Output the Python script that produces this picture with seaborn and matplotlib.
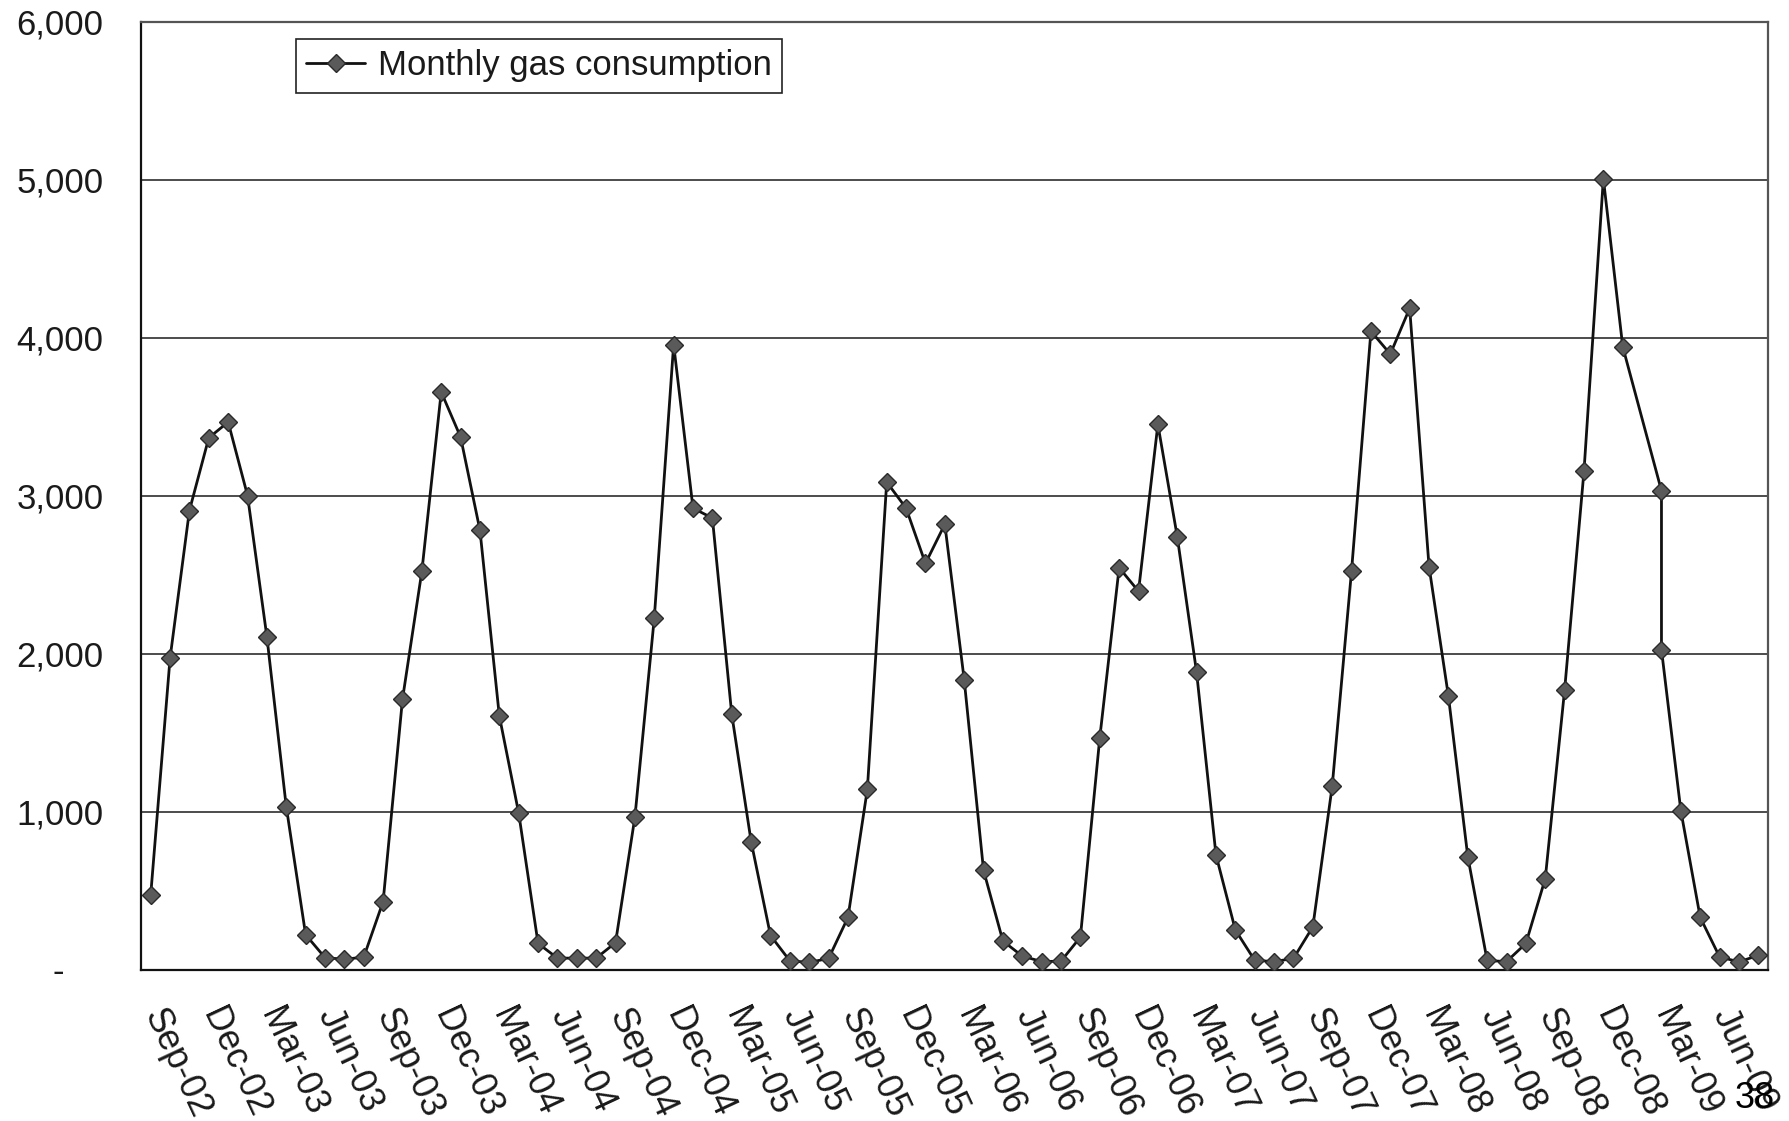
import matplotlib
matplotlib.use("Agg")
import matplotlib.pyplot as plt
import matplotlib.transforms as mtransforms
import numpy as np
import pandas as pd
import seaborn as sns

# Reading month for each meter reading (the Feb-09 reading was taken in March)
reading_months = (
    [str(p) for p in pd.period_range("2002-09", "2009-01", freq="M")]
    + ["2009-03"]
    + [str(p) for p in pd.period_range("2009-03", "2009-08", freq="M")]
)

gas_consumption = [
    470, 1970, 2905, 3365, 3465, 3000, 2105, 1030, 220, 75, 65, 78,        # Sep-02 .. Aug-03
    430, 1710, 2520, 3655, 3370, 2780, 1605, 990, 165, 72, 72, 72,         # Sep-03 .. Aug-04
    170, 965, 2225, 3955, 2920, 2857, 1615, 810, 215, 55, 45, 70,          # Sep-04 .. Aug-05
    330, 1140, 3085, 2920, 2570, 2818, 1835, 627, 180, 85, 50, 53,         # Sep-05 .. Aug-06
    205, 1466, 2543, 2394, 3450, 2740, 1880, 725, 250, 58, 50, 70,         # Sep-06 .. Aug-07
    270, 1160, 2525, 4040, 3895, 4185, 2550, 1730, 715, 57, 50, 165,       # Sep-07 .. Aug-08
    575, 1770, 3155, 5005, 3942, 3030, 2025, 1005, 330, 80, 48, 90,        # Sep-08 .. Aug-09
]

tick_labels = [p.strftime("%b-%y") for p in pd.period_range("2002-09", "2009-06", freq="3M")]
y_ticks = [0, 1000, 2000, 3000, 4000, 5000, 6000]
series_name = "Monthly gas consumption"

start = pd.Period("2002-09", freq="M")
df = pd.DataFrame({
    "month": reading_months,
    "gas": gas_consumption,
})
df["pos"] = [(pd.Period(m, freq="M") - start).n for m in df["month"]]

sns.set_theme(style="white")
plt.rcParams["font.family"] = ["Liberation Sans", "DejaVu Sans"]

W, H = 1789, 1121
fig = plt.figure(figsize=(W / 100, H / 100), dpi=100)
left, right, top, bottom = 141, 1768, 21.5, 969.5
ax = fig.add_axes([left / W, (H - bottom) / H, (right - left) / W, (bottom - top) / H])

sns.lineplot(
    data=df, x="pos", y="gas", ax=ax, estimator=None, sort=False,
    color="#111111", linewidth=2.0, marker="D", markersize=9,
    markerfacecolor="#5a5a5a", markeredgecolor="#2a2a2a", markeredgewidth=1.0,
    label=series_name, zorder=3,
)

n_months = 84
ax.set_xlim(-0.5, n_months - 0.5)
ax.set_ylim(0, 6000)

# category boundaries every quarter
tick_pos = np.arange(0, n_months + 1, 3) - 0.5
ax.set_xticks(tick_pos)
ax.set_xticklabels(tick_labels + [""] * (len(tick_pos) - len(tick_labels)))
ax.set_yticks(y_ticks)
ax.set_yticklabels(["-" if v == 0 else f"{v:,}" for v in y_ticks])

ax.set_xlabel("")
ax.set_ylabel("")

ax.grid(axis="y", color="#2e2e2e", linewidth=1.2)
ax.grid(axis="x", visible=False)
ax.set_axisbelow(True)

for side in ["left", "bottom"]:
    ax.spines[side].set_color("#111111")
    ax.spines[side].set_linewidth(1.6)
for side in ["top", "right"]:
    ax.spines[side].set_color("#555555")
    ax.spines[side].set_linewidth(1.6)

ax.tick_params(axis="both", which="major", direction="out", length=8, width=1.2,
               color="#222222", labelsize=25, labelcolor="#1a1a1a")
ax.tick_params(axis="x", labelsize=26, pad=16)
ax.tick_params(axis="y", pad=19)

shift_x = mtransforms.ScaledTranslation(0.27, 0, fig.dpi_scale_trans)
for lbl in ax.get_xticklabels():
    lbl.set_rotation(-65)
    lbl.set_rotation_mode("anchor")
    lbl.set_ha("left")
    lbl.set_va("top")
    lbl.set_transform(lbl.get_transform() + shift_x)

shift_dash = mtransforms.ScaledTranslation(-0.40, 0, fig.dpi_scale_trans)
for lbl in ax.get_yticklabels():
    if lbl.get_text() == "-":
        lbl.set_transform(lbl.get_transform() + shift_dash)

leg = ax.legend(
    loc="upper left", bbox_to_anchor=(296 / W, 1 - 39 / H), bbox_transform=fig.transFigure,
    fontsize=25, frameon=True, fancybox=False, framealpha=1, edgecolor="#222222",
    borderpad=0.3, handlelength=1.7, handletextpad=0.35, borderaxespad=0,
)
leg.get_frame().set_linewidth(1.2)
for t in leg.get_texts():
    t.set_color("#1a1a1a")

fig.text(1755 / W, 1 - 1099 / H, "38", fontsize=26, ha="center", va="center", color="#000000")

fig.savefig("out.png", dpi=100)
